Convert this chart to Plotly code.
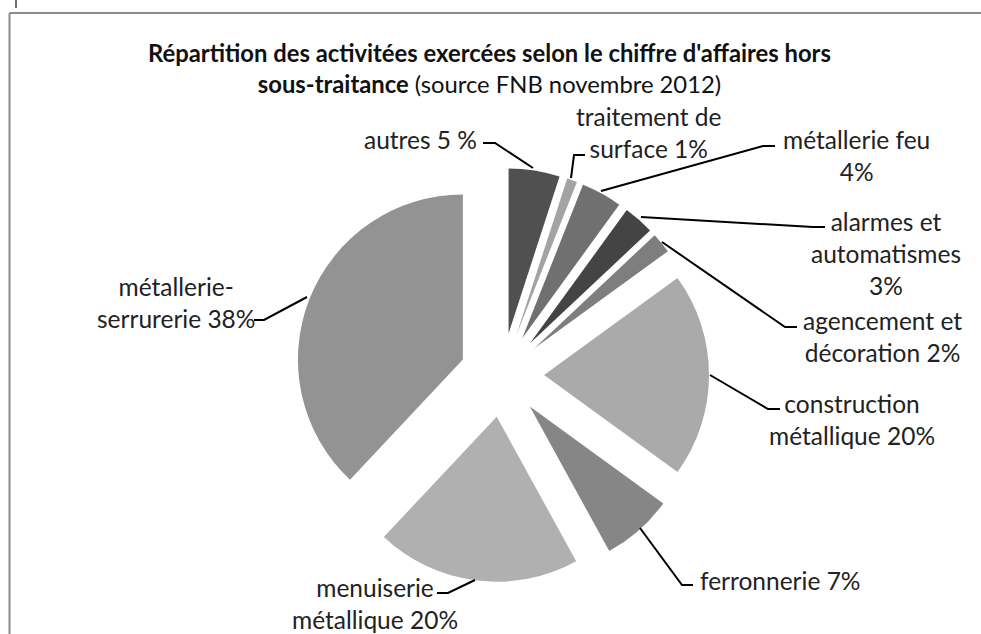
import plotly.graph_objects as go

# ---- data ----
categories = [
    "autres", "traitement de surface", "métallerie feu",
    "alarmes et automatismes", "agencement et décoration",
    "construction métallique", "ferronnerie",
    "menuiserie métallique", "métallerie-serrurerie",
]
values = [5, 1, 4, 3, 2, 20, 7, 20, 38]
label_texts = [
    "autres 5 %",
    "traitement de<br>surface 1%",
    "métallerie feu<br>4%",
    "alarmes et<br>automatismes<br>3%",
    "agencement et<br>décoration 2%",
    "construction<br>métallique 20%",
    "ferronnerie 7%",
    "menuiserie<br>métallique 20%",
    "métallerie-<br>serrurerie 38%",
]
colors = ["#505050", "#a3a3a3", "#707070", "#444444", "#7e7e7e",
          "#aaaaaa", "#868686", "#b0b0b0", "#939393"]

# ---- layout helpers (pixel coordinates of label blocks and leader lines) ----
W, H = 981, 634
label_pos = [  # x, y, xanchor
    (479, 139, "right"),
    (649, 132, "center"),
    (856, 155, "center"),
    (886, 253, "center"),
    (882, 336, "center"),
    (852, 419, "center"),
    (698, 580, "left"),
    (375, 603, "center"),
    (176, 302, "center"),
]
leaders = [
    [(483, 143), (495, 143), (533, 168)],
    [(585, 155), (574, 155), (571, 178)],
    [(775, 146), (763, 146), (601, 191)],
    [(825, 227), (813, 227), (641, 217)],
    [(797, 327), (785, 327), (662, 242)],
    [(780, 409), (768, 409), (710, 375)],
    [(693, 585), (682, 585), (640, 528)],
    [(437, 593), (448, 593), (475, 580)],
    [(254, 320), (264, 320), (307, 297)],
]

FONT = "Lato, Carlito, Calibri, sans-serif"
LABEL_SIZE = 24.5
TITLE_SIZE = 23.8

fig = go.Figure()
fig.add_trace(go.Pie(
    labels=categories, values=values, sort=False, direction="clockwise",
    rotation=0, pull=[0.255] * len(values),
    marker=dict(colors=colors, line=dict(width=0)),
    textinfo="none", hoverinfo="label+percent", showlegend=False,
    domain=dict(x=[295 / W, 709 / W], y=[1 - 582 / H, 1 - 168 / H]),
))

# invisible pixel axes for labels / leaders
fig.add_trace(go.Scatter(x=[0, W], y=[0, H], mode="markers",
                         marker=dict(opacity=0), hoverinfo="skip", showlegend=False))

shapes = []
for pts in leaders:
    path = "M " + " L ".join(f"{x},{y}" for x, y in pts)
    shapes.append(dict(type="path", path=path, xref="x", yref="y",
                       line=dict(color="black", width=2)))
# chart frame (top and left edges visible, rest cut off)
shapes.append(dict(type="line", xref="paper", yref="paper", x0=9.5 / W, y0=1 - 13 / H,
                   x1=1, y1=1 - 13 / H, line=dict(color="#8a8a8a", width=2)))
shapes.append(dict(type="line", xref="paper", yref="paper", x0=9.5 / W, y0=1 - 13 / H,
                   x1=9.5 / W, y1=0, line=dict(color="#8a8a8a", width=2)))
shapes.append(dict(type="line", xref="paper", yref="paper", x0=16 / W, y0=1,
                   x1=16 / W, y1=1 - 8 / H, line=dict(color="#444444", width=1.5)))

annotations = []
for txt, (x, y, xa) in zip(label_texts, label_pos):
    annotations.append(dict(x=x, y=y, xref="x", yref="y", text=txt, showarrow=False,
                            xanchor=xa, yanchor="middle", align="center",
                            font=dict(family=FONT, size=LABEL_SIZE, color="#222222")))
annotations.append(dict(
    x=489, y=68, xref="x", yref="y", showarrow=False, xanchor="center", yanchor="middle",
    align="center",
    text="<b>Répartition des activitées exercées selon le chiffre d'affaires hors</b><br>"
         "<b>sous-traitance</b> (source FNB novembre 2012)",
    font=dict(family=FONT, size=TITLE_SIZE, color="#111111")))

fig.update_layout(
    width=W, height=H, margin=dict(l=0, r=0, t=0, b=0),
    paper_bgcolor="white", plot_bgcolor="rgba(0,0,0,0)",
    xaxis=dict(range=[0, W], visible=False, domain=[0, 1], fixedrange=True),
    yaxis=dict(range=[H, 0], visible=False, domain=[0, 1], fixedrange=True),
    shapes=shapes, annotations=annotations,
)
fig.write_html("out.html", config={"displayModeBar": False},
               post_script="document.body.style.margin='0';document.body.style.overflow='hidden';")
